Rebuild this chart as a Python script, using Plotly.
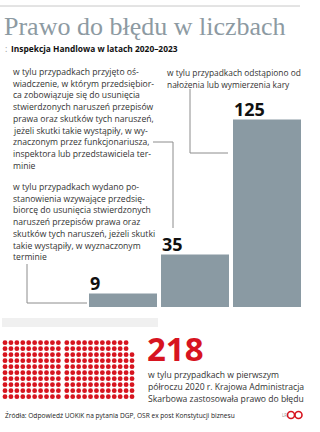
import plotly.graph_objects as go

# ---------------- data ----------------
bar_labels = ["postanowienia", "oświadczenia", "odstąpiono od kary"]
bar_values = [9, 35, 125]
kas_value = 218

title = "Prawo do błędu w liczbach"
subtitle = "Inspekcja Handlowa w latach 2020–2023"
text_block1 = [
    "w tylu przypadkach przyjęto oś-",
    "wiadczenie, w którym przedsiębior-",
    "ca zobowiązuje się do usunięcia",
    "stwierdzonych naruszeń przepisów",
    "prawa oraz skutków tych naruszeń,",
    "jeżeli skutki takie wystąpiły, w wy-",
    "znaczonym przez funkcjonariusza,",
    "inspektora lub przedstawiciela ter-",
    "minie",
]
text_block2 = [
    "w tylu przypadkach wydano po-",
    "stanowienia wzywające przedsię-",
    "biorcę do usunięcia stwierdzonych",
    "naruszeń przepisów prawa oraz",
    "skutków tych naruszeń, jeżeli skutki",
    "takie wystąpiły, w wyznaczonym",
    "terminie",
]
text_right = [
    "w tylu przypadkach odstąpiono od",
    "nałożenia lub wymierzenia kary",
]
text_kas = [
    "w tylu przypadkach w pierwszym",
    "półroczu 2020 r. Krajowa Administracja",
    "Skarbowa zastosowała prawo do błędu",
]
source = "Źródła: Odpowiedź UOKiK na pytania DGP, OSR ex post Konstytucji biznesu"

# ---------------- style ----------------
W, H = 320, 432
BAR_COLOR = "#8a9aa3"
RED = "#d7141f"
TXT = "#333333"
LINE = "#8c8c8c"
SANS = "Open Sans"
SERIF = "Liberation Serif"

fig = go.Figure()
ann = []
shapes = []


def txt(x, y, s, size, color=TXT, family=SANS, bold=False, anchor="left"):
    ann.append(dict(
        x=x, y=y, xref="x", yref="y", text=(f"<b>{s}</b>" if bold else s),
        showarrow=False, xanchor=anchor, yanchor="middle",
        font=dict(size=size, color=color, family=family),
    ))


def seg(x0, y0, x1, y1, color=LINE, width=1):
    shapes.append(dict(type="line", xref="x", yref="y", x0=x0, y0=y0, x1=x1, y1=y1,
                       line=dict(color=color, width=width)))


# top rule
seg(0, 6, 300, 6, color="#c8c8c8", width=1)

# title + subtitle
txt(2, 26, title, 26, color="#8d9aa2", family=SERIF)
txt(3, 48, ":", 9, color="#999999")
txt(9, 48, subtitle, 8.4, color="#111111", bold=True)

# text blocks
LS = 11.7
for i, s in enumerate(text_block1):
    txt(11, 72 + LS * i, s, 8.6)
for i, s in enumerate(text_block2):
    txt(11, 187 + LS * i, s, 8.6)
for i, s in enumerate(text_right):
    txt(165, 72 + 12 * i, s, 8.4)

# connectors
seg(153, 142, 173, 142)
seg(173, 142, 173, 228)
seg(27, 264, 27, 303)
seg(27, 303, 87, 303)
seg(190, 89, 190, 153)
seg(190, 153, 228, 153)

# bars (own axes, 1.5 px per unit)
BASE = 307
PX = 1.5
YMAX = 130
GAP = 4 / 72
fig.add_trace(go.Bar(
    x=list(range(len(bar_values))), y=bar_values, xaxis="x2", yaxis="y2",
    marker=dict(color=BAR_COLOR, line=dict(width=0)), hoverinfo="skip",
))
for i, v in enumerate(bar_values):
    ann.append(dict(
        x=i - (1 - GAP) / 2, y=v, xref="x2", yref="y2", text=f"<b>{v}</b>",
        showarrow=False, xanchor="left", yanchor="bottom", xshift=-1, yshift=-3,
        font=dict(size=18, color="#111111", family=SANS),
    ))

# faint grey band
shapes.append(dict(type="rect", xref="x", yref="y", x0=2, x1=158, y0=318, y1=327,
                   fillcolor="#f0f0f0", line=dict(width=0), layer="below"))

# dot grid for KAS value (blocks of 10x10, last partial column bottom-aligned)
rem = kas_value % 10
last_col = (kas_value - 1) // 10
dx, dy = 5.93, 6.0
px_x, px_y = [], []
for k in range(kas_value):
    c, r = divmod(k, 10)
    extra = 2.5 if c >= 10 else 0
    if rem and c == last_col:
        r = r + (10 - rem)
    px_x.append(5 + dx * c + extra)
    px_y.append(342.7 + dy * r)
fig.add_trace(go.Scatter(
    x=px_x, y=px_y, mode="markers", xaxis="x", yaxis="y",
    marker=dict(size=4.8, color=RED, line=dict(width=0)), hoverinfo="skip",
))

ann.append(dict(
    x=145, y=367, xref="x", yref="y", text=f"<b>{kas_value}</b>", showarrow=False,
    xanchor="left", yanchor="bottom", yshift=-6,
    font=dict(size=33, color=RED, family=SANS),
))
for i, s in enumerate(text_kas):
    txt(146, 375 + 12 * i, s, 8.6)

# footer
txt(3, 415, source, 6.6, color="#222222")
txt(280, 415, "LR", 4.5, color="#999999")
fig.add_trace(go.Scatter(
    x=[291, 298.5], y=[415, 415], mode="markers", xaxis="x", yaxis="y",
    marker=dict(size=7, color="white", line=dict(color=RED, width=1.6)), hoverinfo="skip",
))

fig.update_layout(
    width=W, height=H, margin=dict(l=0, r=0, t=0, b=0),
    paper_bgcolor="white", plot_bgcolor="rgba(0,0,0,0)", showlegend=False,
    xaxis=dict(range=[0, W], domain=[0, 1], visible=False, fixedrange=True),
    yaxis=dict(range=[H, 0], domain=[0, 1], visible=False, fixedrange=True),
    xaxis2=dict(domain=[87 / W, 303 / W], range=[-0.5, len(bar_values) - 0.5],
                anchor="y2", visible=False),
    yaxis2=dict(domain=[(H - BASE) / H, (H - BASE + PX * YMAX) / H], range=[0, YMAX],
                anchor="x2", visible=False),
    bargap=GAP,
    annotations=ann, shapes=shapes,
)

fig.write_html("out.html")
